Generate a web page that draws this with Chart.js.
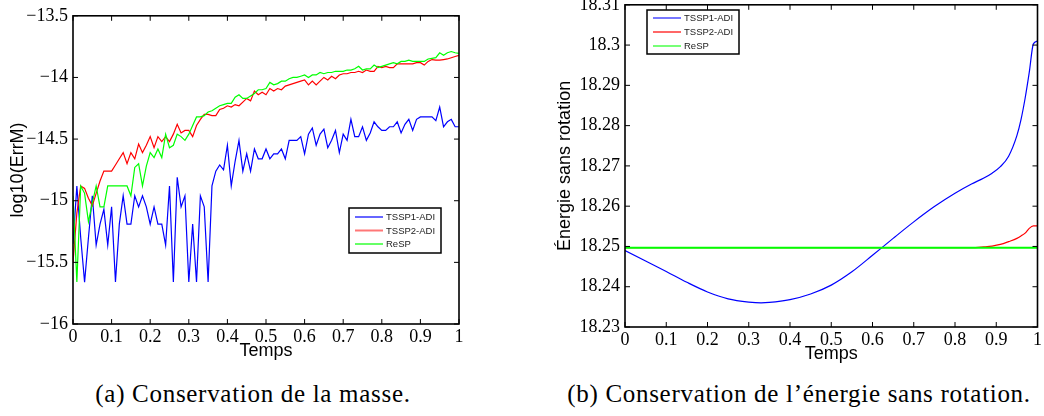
<!DOCTYPE html>
<html>
<head>
<meta charset="utf-8">
<script src="https://cdn.jsdelivr.net/npm/chart.js@4.4.0/dist/chart.umd.min.js"></script>
<style>
  html, body { margin: 0; padding: 0; background: #fff; }
  body { width: 1044px; height: 416px; position: relative; overflow: hidden; }
  canvas { position: absolute; }
  #massChart { left: 0; top: 0; }
  #energyChart { left: 540px; top: -11px; }
  .caption {
    position: absolute; top: 380px;
    font-family: "Liberation Serif", serif; font-size: 25px; letter-spacing: 0.7px; color: #000;
    white-space: nowrap; transform: translateX(-50%);
  }
</style>
</head>
<body>
<canvas id="massChart" width="480" height="366"></canvas>
<canvas id="energyChart" width="504" height="380"></canvas>
<div class="caption" style="left:253px">(a) Conservation de la masse.</div>
<div class="caption" style="left:799px">(b) Conservation de l’énergie sans rotation.</div>
<script>
// --- (a) log10(ErrM), one sample every 0.01 in Temps ---
const massStep = 0.01;
const massTSSP1 = [
  -15.35, -14.88, -15.30, -15.66, -15.30, -14.96, -15.36, -15.19, -15.07, -15.36,
  -15.05, -15.66, -15.19, -14.96, -15.19, -15.19, -14.96, -15.05, -14.96, -15.05,
  -15.19, -15.05, -15.19, -15.19, -15.36, -14.88, -15.66, -14.81, -15.05, -14.96,
  -15.66, -15.19, -15.66, -14.96, -15.05, -15.66, -14.88, -14.76, -14.71, -14.75,
  -14.55, -14.88, -14.68, -14.51, -14.76, -14.62, -14.76, -14.58, -14.66, -14.66,
  -14.58, -14.66, -14.62, -14.62, -14.58, -14.66, -14.51, -14.51, -14.51, -14.48,
  -14.62, -14.46, -14.41, -14.55, -14.46, -14.42, -14.57, -14.51, -14.43, -14.61,
  -14.46, -14.51, -14.34, -14.48, -14.48, -14.40, -14.51, -14.45, -14.36, -14.40,
  -14.43, -14.43, -14.40, -14.40, -14.36, -14.45, -14.38, -14.34, -14.43, -14.34,
  -14.32, -14.32, -14.32, -14.32, -14.35, -14.24, -14.40, -14.36, -14.34, -14.40,
  -14.40
];
const massTSSP2 = [
  -15.50, -15.10, -14.88, -14.90, -14.98, -15.04, -14.94, -14.84, -14.76, -14.76,
  -14.76, -14.71, -14.66, -14.61, -14.70, -14.61, -14.66, -14.54, -14.61, -14.55,
  -14.48, -14.57, -14.48, -14.52, -14.48, -14.52, -14.46, -14.38, -14.45, -14.43,
  -14.43, -14.48, -14.39, -14.34, -14.30, -14.30, -14.31, -14.31, -14.26, -14.25,
  -14.23, -14.24, -14.22, -14.23, -14.20, -14.17, -14.19, -14.11, -14.14, -14.12,
  -14.14, -14.09, -14.11, -14.09, -14.10, -14.07, -14.06, -14.05, -14.04, -14.03,
  -14.02, -14.06, -14.03, -14.06, -14.03, -14.00, -14.02, -13.99, -14.01, -13.98,
  -13.97, -13.97, -13.96, -13.96, -13.95, -13.96, -13.94, -13.95, -13.95, -13.91,
  -13.92, -13.91, -13.92, -13.92, -13.89, -13.89, -13.89, -13.89, -13.89, -13.88,
  -13.88, -13.90, -13.87, -13.855, -13.86, -13.86, -13.855, -13.85, -13.84, -13.83,
  -13.82
];
const massReSP = [
  -14.96, -15.66, -14.88, -14.94, -15.17, -15.02, -14.88, -15.05, -15.05, -14.88,
  -14.88, -14.88, -14.88, -14.88, -14.88, -14.96, -14.73, -14.70, -14.88, -14.72,
  -14.61, -14.65, -14.58, -14.65, -14.46, -14.57, -14.55, -14.46, -14.48, -14.51,
  -14.46, -14.39, -14.32, -14.32, -14.31, -14.28, -14.27, -14.25, -14.23, -14.22,
  -14.21, -14.21, -14.16, -14.14, -14.17, -14.17, -14.15, -14.13, -14.10, -14.10,
  -14.09, -14.04, -14.06, -14.05, -14.03, -14.03, -14.01, -14.00, -14.00, -13.99,
  -13.98, -14.00, -13.98, -13.98, -13.96, -13.97, -13.96, -13.96, -13.95, -13.95,
  -13.95, -13.94, -13.94, -13.93, -13.91, -13.94, -13.93, -13.93, -13.90, -13.92,
  -13.91, -13.90, -13.89, -13.88, -13.89, -13.87, -13.87, -13.86, -13.87, -13.87,
  -13.87, -13.87, -13.85, -13.845, -13.84, -13.80, -13.82, -13.80, -13.79, -13.80,
  -13.805
];

// --- (b) energie sans rotation ---
const energyTimes = [0, 0.05, 0.1, 0.15, 0.2, 0.25, 0.3, 0.33, 0.35, 0.4,
  0.45, 0.5, 0.55, 0.6, 0.65, 0.7, 0.75, 0.8, 0.84, 0.87,
  0.89, 0.91, 0.93, 0.95, 0.96, 0.97, 0.98, 0.99, 1];
const energyTSSP1 = [18.2490, 18.2464, 18.2438, 18.2411, 18.2387, 18.2370, 18.2362, 18.2360, 18.2361, 18.2368,
  18.2382, 18.2404, 18.2437, 18.2478, 18.2520, 18.2561, 18.2599, 18.2632, 18.2655, 18.2670,
  18.2682, 18.2698, 18.2724, 18.2775, 18.2815, 18.2868, 18.2932, 18.3003, 18.3010];
const energyTSSP2 = [18.2497, 18.2497, 18.2497, 18.2497, 18.2497, 18.2497, 18.2497, 18.2497, 18.2497, 18.2497,
  18.2497, 18.2497, 18.2497, 18.2497, 18.2497, 18.2497, 18.2497, 18.2497, 18.2497, 18.2499,
  18.2501, 18.2505, 18.2512, 18.2520, 18.2526, 18.2533, 18.2545, 18.2551, 18.2551];
const energyReSP = [18.2497, 18.2497, 18.2497, 18.2497, 18.2497, 18.2497, 18.2497, 18.2497, 18.2497, 18.2497,
  18.2497, 18.2497, 18.2497, 18.2497, 18.2497, 18.2497, 18.2497, 18.2497, 18.2497, 18.2497,
  18.2497, 18.2497, 18.2497, 18.2497, 18.2497, 18.2497, 18.2497, 18.2497, 18.2497];

// tick values
const timeTicks = [0, 0.1, 0.2, 0.3, 0.4, 0.5, 0.6, 0.7, 0.8, 0.9, 1];
const massTicks = [-16, -15.5, -15, -14.5, -14, -13.5];
const energyTicks = [18.23, 18.24, 18.25, 18.26, 18.27, 18.28, 18.29, 18.3, 18.31];

const tickFont = { family: "'Liberation Serif', 'Times New Roman', serif", size: 18 };
const titleFont = { family: "'Liberation Sans', Arial, sans-serif", size: 18 };

// matlab-like frame with inward ticks on all four sides
const matlabBox = {
  id: 'matlabBox',
  afterDatasetsDraw(chart) {
    const {ctx, chartArea: a, scales: {x, y}} = chart;
    const len = 5;
    ctx.save();
    ctx.strokeStyle = '#000';
    ctx.lineWidth = 1;
    ctx.beginPath();
    x.ticks.forEach(t => {
      const px = x.getPixelForValue(t.value);
      ctx.moveTo(px, a.bottom); ctx.lineTo(px, a.bottom - len);
      ctx.moveTo(px, a.top); ctx.lineTo(px, a.top + len);
    });
    y.ticks.forEach(t => {
      const py = y.getPixelForValue(t.value);
      ctx.moveTo(a.left, py); ctx.lineTo(a.left + len, py);
      ctx.moveTo(a.right, py); ctx.lineTo(a.right - len, py);
    });
    ctx.stroke();
    ctx.lineWidth = 1.6;
    ctx.strokeRect(a.left, a.top, a.right - a.left, a.bottom - a.top);
    ctx.restore();
  }
};

// small boxed legend like the matlab one
const boxedLegend = {
  id: 'boxedLegend',
  afterDraw(chart, args, opts) {
    const {ctx} = chart;
    const {left, top, width, height} = opts;
    ctx.save();
    ctx.fillStyle = '#fff';
    ctx.fillRect(left, top, width, height);
    ctx.lineWidth = 1.5;
    ctx.strokeStyle = '#000';
    ctx.strokeRect(left, top, width, height);
    ctx.font = "9.5px 'Liberation Sans', Arial, sans-serif";
    ctx.textBaseline = 'middle';
    const ordered = [...chart.data.datasets].sort((p, q) => p.legendIndex - q.legendIndex);
    ordered.forEach((ds, i) => {
      const yy = top + opts.firstRow + i * opts.rowGap;
      ctx.strokeStyle = ds.legendColor || ds.borderColor;
      ctx.lineWidth = ds.legendWidth || ds.borderWidth;
      ctx.beginPath();
      ctx.moveTo(left + 6, yy);
      ctx.lineTo(left + 34, yy);
      ctx.stroke();
      ctx.fillStyle = '#222';
      ctx.fillText(ds.label, left + 37, yy + 0.5);
    });
    ctx.restore();
  }
};

function fmt(v) {
  const s = String(parseFloat(Math.abs(v).toFixed(2)));
  return (v < 0 ? '\u2212' : '') + s;
}

function xScale(height) {
  return {
    type: 'linear', min: 0, max: 1,
    grid: { display: false, drawTicks: false },
    border: { display: false },
    afterBuildTicks: s => { s.ticks = timeTicks.map(v => ({ value: v })); },
    ticks: { font: tickFont, color: '#000', padding: 2, maxRotation: 0, autoSkip: false, callback: fmt },
    title: { display: true, text: 'Temps', font: titleFont, color: '#000', padding: { top: 0, bottom: 4 } },
    afterFit: s => { s.height = height; }
  };
}

function yScale(min, max, ticks, label, width, titlePad) {
  return {
    type: 'linear', min: min, max: max,
    grid: { display: false, drawTicks: false },
    border: { display: false },
    afterBuildTicks: s => { s.ticks = ticks.map(v => ({ value: v })); },
    ticks: { font: tickFont, color: '#000', padding: 5, autoSkip: false, callback: fmt },
    title: { display: true, text: label, font: titleFont, color: '#000', padding: { top: titlePad, bottom: 0 } },
    afterFit: s => { s.width = width; }
  };
}

function line(label, values, xs, color, width, extra) {
  return Object.assign({
    label: label,
    data: values.map((v, i) => ({ x: xs(i), y: v })),
    borderColor: color,
    borderWidth: width,
    pointRadius: 0,
    fill: false,
    tension: 0
  }, extra);
}

const massX = i => i * massStep;
new Chart(document.getElementById('massChart'), {
  type: 'line',
  data: {
    datasets: [
      line('TSSP1-ADI', massTSSP1, massX, '#0000ff', 1.2, { order: 2, legendIndex: 0 }),
      line('TSSP2-ADI', massTSSP2, massX, '#ff0000', 1.2, { order: 1, legendIndex: 1, legendColor: '#f77', legendWidth: 2 }),
      line('ReSP', massReSP, massX, '#00ff00', 1.2, { order: 0, legendIndex: 2 })
    ]
  },
  options: {
    responsive: false, animation: false, events: [],
    layout: { padding: { top: 10, right: 21, left: 0, bottom: 0 } },
    scales: {
      x: xScale(42),
      y: yScale(-16, -13.5, massTicks, 'log10(ErrM)', 73, 7)
    },
    plugins: {
      legend: { display: false }, tooltip: { enabled: false },
      boxedLegend: { left: 349, top: 208, width: 92, height: 45, firstRow: 9, rowGap: 13.5 }
    }
  },
  plugins: [matlabBox, boxedLegend]
});

const energyX = i => energyTimes[i];
new Chart(document.getElementById('energyChart'), {
  type: 'line',
  data: {
    datasets: [
      line('TSSP1-ADI', energyTSSP1, energyX, '#0000ff', 1.2, { order: 2, legendIndex: 0, cubicInterpolationMode: 'monotone', legendColor: '#77f', legendWidth: 2 }),
      line('TSSP2-ADI', energyTSSP2, energyX, '#ff0000', 1.2, { order: 1, legendIndex: 1, cubicInterpolationMode: 'monotone' }),
      line('ReSP', energyReSP, energyX, '#00ff00', 2, { order: 0, legendIndex: 2, cubicInterpolationMode: 'monotone', legendColor: '#7f7', legendWidth: 2 })
    ]
  },
  options: {
    responsive: false, animation: false, events: [],
    layout: { padding: { top: 10, right: 4, left: 0, bottom: 0 } },
    scales: {
      x: xScale(42),
      y: yScale(18.23, 18.31, energyTicks, 'Énergie sans rotation', 85, 14)
    },
    plugins: {
      legend: { display: false }, tooltip: { enabled: false },
      boxedLegend: { left: 107, top: 21, width: 92, height: 44, firstRow: 8, rowGap: 14 }
    }
  },
  plugins: [matlabBox, boxedLegend]
});
</script>
</body>
</html>
